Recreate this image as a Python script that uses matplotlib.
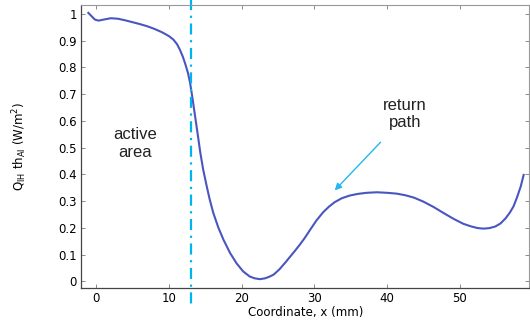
import matplotlib
matplotlib.use("Agg")
import matplotlib.pyplot as plt
import numpy as np

# values
x_mm = [-1.1, -0.6, -0.2, 0.3, 1.0, 2.0, 3.0, 4.0, 5.0, 6.0, 7.0, 8.0, 9.0,
        10.0, 10.6, 11.1, 11.5, 11.9, 12.2, 12.6, 12.9, 13.2, 13.6, 14.0,
        14.3, 14.7, 15.2, 15.6, 16.1, 16.8, 17.5, 18.4, 19.3, 20.2, 21.1,
        21.8, 22.5, 23.2, 23.8, 24.4, 25.2, 26.0, 26.6, 27.3, 28.0, 28.7,
        29.4, 30.3, 31.2, 32.0, 32.8, 33.8, 34.9, 36.0, 37.2, 38.6, 40.0,
        41.3, 42.5, 43.7, 45.0, 46.4, 47.8, 49.2, 50.5, 51.6, 52.5, 53.3,
        54.1, 54.9, 55.6, 56.3, 56.9, 57.4, 57.9, 58.4, 58.8]
q_val = [1.004, 0.99, 0.979, 0.975, 0.979, 0.984, 0.982, 0.976, 0.969, 0.962,
         0.954, 0.944, 0.932, 0.917, 0.904, 0.887, 0.866, 0.84, 0.816, 0.78,
         0.742, 0.69, 0.615, 0.54, 0.482, 0.418, 0.354, 0.306, 0.255, 0.2,
         0.155, 0.106, 0.067, 0.037, 0.018, 0.011, 0.008, 0.011, 0.017,
         0.025, 0.045, 0.07, 0.09, 0.113, 0.137, 0.163, 0.192, 0.228, 0.258,
         0.279, 0.296, 0.311, 0.321, 0.327, 0.331, 0.333, 0.331, 0.328,
         0.322, 0.313, 0.298, 0.278, 0.255, 0.233, 0.215, 0.205, 0.199,
         0.197, 0.199, 0.205, 0.216, 0.235, 0.257, 0.28, 0.315, 0.355, 0.398]

xticks = [0, 10, 20, 30, 40, 50]
yticks = [0, 0.1, 0.2, 0.3, 0.4, 0.5, 0.6, 0.7, 0.8, 0.9, 1]
ytick_labels = ["0", "0.1", "0.2", "0.3", "0.4", "0.5", "0.6", "0.7", "0.8", "0.9", "1"]
boundary_x = 13

fig = plt.figure(figsize=(5.3, 3.24), dpi=100)
ax = fig.add_axes([0.153, 0.112, 0.846, 0.873])

ax.plot(x_mm, q_val, color="#4a56c0", lw=1.5, solid_joinstyle="round")

ax.set_xlim(-2.1, 59.6)
ax.set_ylim(-0.024, 1.034)
ax.set_xticks(xticks)
ax.set_yticks(yticks)
ax.set_yticklabels(ytick_labels)
ax.tick_params(direction="in", top=True, right=True, length=3, width=0.6,
               color="#777777", labelsize=8.5, pad=3)

for s in ["top", "right"]:
    ax.spines[s].set_color("#999999")
    ax.spines[s].set_linewidth(0.8)
for s in ["left", "bottom"]:
    ax.spines[s].set_color("#444444")
    ax.spines[s].set_linewidth(0.9)

ax.set_xlabel("Coordinate, x (mm)", fontsize=8.5, labelpad=1)
ax.set_ylabel("Q$_{\\mathregular{IH}}$ th$_{\\mathregular{Al}}$ (W/m$^{\\mathregular{2}}$)",
              fontsize=8.5, labelpad=21)

# boundary between active area and return path
ax.plot([boundary_x, boundary_x], [1.06, -0.1], color="#00b4f0", lw=1.6,
        ls=(0, (5, 2.5, 1, 2.5)), clip_on=False)

ax.text(5.3, 0.515, "active\narea", ha="center", va="center", fontsize=12,
        family="Liberation Sans", color="#222222", linespacing=1.2)
ax.text(42.5, 0.625, "return\npath", ha="center", va="center", fontsize=12,
        family="Liberation Sans", color="#222222", linespacing=1.2)
ax.annotate("", xy=(32.8, 0.34), xytext=(39.1, 0.52),
            arrowprops=dict(arrowstyle="-|>", color="#22b8f0", lw=1.0,
                            mutation_scale=10, shrinkA=0, shrinkB=0))

fig.savefig("out.png", dpi=100)
